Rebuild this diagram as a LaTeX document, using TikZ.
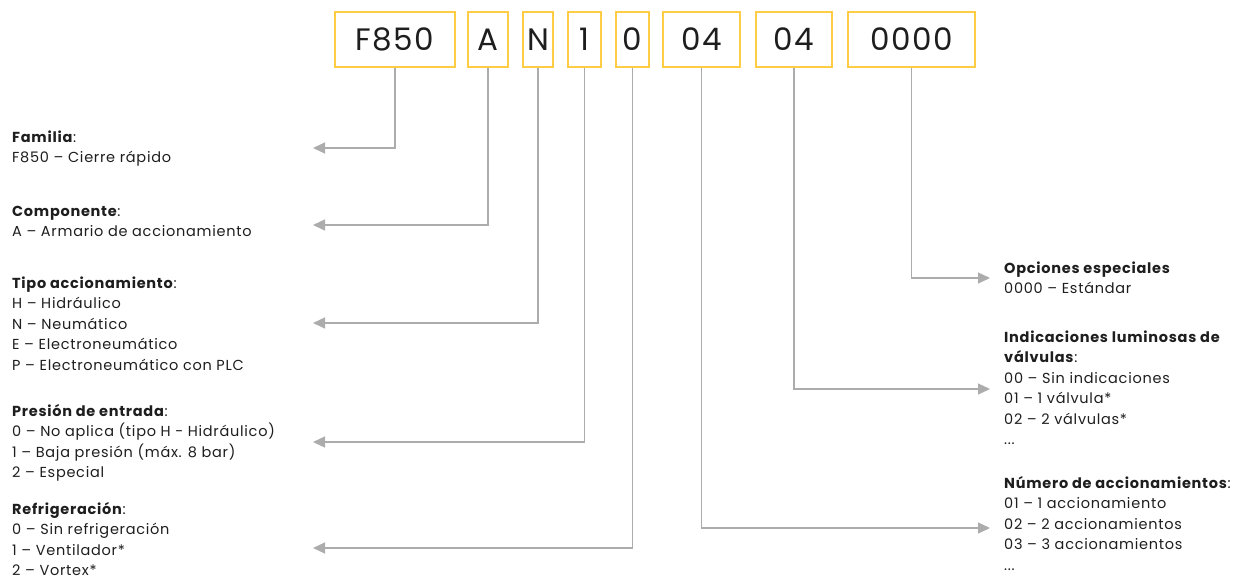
\documentclass[tikz,border=0pt]{standalone}
\usepackage{fontspec}
\setmainfont{Poppins}[LetterSpace=5]
\usetikzlibrary{arrows.meta}
\definecolor{boxyellow}{RGB}{255,204,70}
\definecolor{linegray}{RGB}{172,172,172}
\definecolor{txt}{RGB}{30,30,30}
\newcommand{\hd}[1]{\textbf{#1}}

\begin{document}
\begin{tikzpicture}[x=1pt,y=-1pt,
  codebox/.style={draw=boxyellow, line width=1.2pt, minimum height=55pt,
    inner sep=0pt, text=txt, font=\fontsize{31}{36}\selectfont},
  conn/.style={draw=linegray, line width=1.3pt,
    -{Triangle[length=12pt,width=11pt]}, color=linegray},
  desc/.style={align=left, anchor=base west, inner sep=0pt, text=txt,
    font=\fontsize{14.5}{20.5}\selectfont}]

\useasboundingbox (0,0) rectangle (1239,587);

% code boxes
\node[codebox, minimum width=120pt] (bfam)  at (395,39.5)   {F850};
\node[codebox, minimum width=40pt]  (bcomp) at (488,39.5)   {A};
\node[codebox, minimum width=30pt]  (btipo) at (538,39.5)   {N};
\node[codebox, minimum width=33pt]  (bpres) at (584.5,39.5) {1};
\node[codebox, minimum width=33pt]  (brefr) at (632.5,39.5) {0};
\node[codebox, minimum width=77pt]  (bnum)  at (701.5,39.5) {04};
\node[codebox, minimum width=76pt]  (bind)  at (794,39.5)   {04};
\node[codebox, minimum width=127pt] (bopc)  at (911.5,39.5) {0000};

% left texts (anchored at the base of the last line)
\node[desc] (tfam) at (12,162.5) {\hd{Familia}:\\F850 -- Cierre rápido};
\node[desc] (tcomp) at (12,236.5) {\hd{Componente}:\\A -- Armario de accionamiento};
\node[desc] (ttipo) at (12,370) {\hd{Tipo accionamiento}:\\H -- Hidráulico\\N -- Neumático\\E -- Electroneumático\\P -- Electroneumático con PLC};
\node[desc] (tpres) at (12,477.5) {\hd{Presión de entrada}:\\0 -- No aplica (tipo H - Hidráulico)\\1 -- Baja presión (máx. 8 bar)\\2 -- Especial};
\node[desc] (trefr) at (12,575.5) {\hd{Refrigeración}:\\0 -- Sin refrigeración\\1 -- Ventilador*\\2 -- Vortex*};

% right texts
\node[desc] (topc) at (1004,293.5) {\hd{Opciones especiales}\\0000 -- Estándar};
\node[desc] (tind) at (1004,444.5) {\hd{Indicaciones luminosas de}\\\hd{válvulas}:\\00 -- Sin indicaciones\\01 -- 1 válvula*\\02 -- 2 válvulas*\\...};
\node[desc] (tnum) at (1004,570) {\hd{Número de accionamientos}:\\01 -- 1 accionamiento\\02 -- 2 accionamientos\\03 -- 3 accionamientos\\...};

% arrow ends
\coordinate (efam)  at (313,148);
\coordinate (ecomp) at (313,225);
\coordinate (etipo) at (313,323);
\coordinate (epres) at (313,442);
\coordinate (erefr) at (313,548);
\coordinate (eopc)  at (990,278);
\coordinate (eind)  at (990,389);
\coordinate (enum)  at (990,528);

\draw[conn] (bfam.south)  |- (efam);
\draw[conn] (bcomp.south) |- (ecomp);
\draw[conn] (btipo.south) |- (etipo);
\draw[conn] (bpres.south) |- (epres);
\draw[conn] (brefr.south) |- (erefr);
\draw[conn] (bopc.south)  |- (eopc);
\draw[conn] (bind.south)  |- (eind);
\draw[conn] (bnum.south)  |- (enum);

\end{tikzpicture}
\end{document}
